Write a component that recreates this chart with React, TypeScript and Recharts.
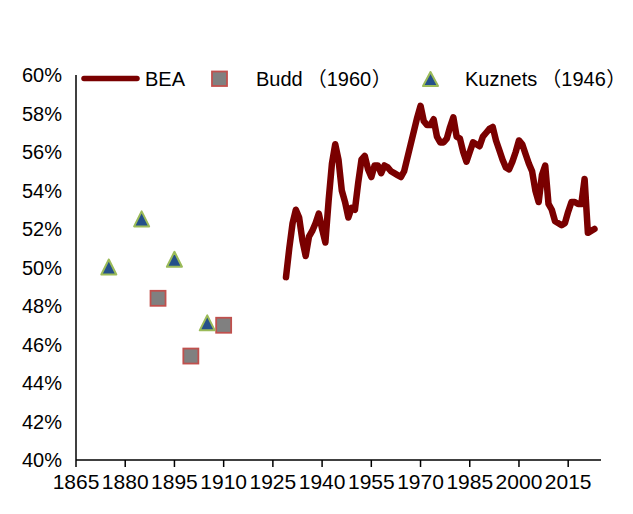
import { ComposedChart, Line, Scatter, XAxis, YAxis, Legend } from 'recharts';

// BEA labor share, annual from 1929
const beaStartYear = 1929;
const beaShare = [
  49.5, 51.0, 52.3, 53.0, 52.6, 51.4, 50.6, 51.6, 51.9, 52.3, // 1929-1938
  52.8, 52.0, 51.3, 53.5, 55.4, 56.4, 55.6, 54.0, 53.4, 52.6, // 1939-1948
  53.1, 53.0, 54.4, 55.6, 55.8, 55.1, 54.7, 55.3, 55.3, 54.9, // 1949-1958
  55.3, 55.2, 55.0, 54.9, 54.8, 54.7, 55.0, 55.7, 56.4, 57.1, // 1959-1968
  57.8, 58.4, 57.6, 57.4, 57.4, 57.7, 56.8, 56.5, 56.5, 56.7, // 1969-1978
  57.3, 57.8, 56.8, 56.7, 56.0, 55.5, 56.0, 56.5, 56.4, 56.3, // 1979-1988
  56.8, 57.0, 57.2, 57.3, 56.6, 56.1, 55.6, 55.2, 55.1, 55.5, // 1989-1998
  56.0, 56.6, 56.4, 55.9, 55.4, 55.0, 54.0, 53.4, 54.8, 55.3, // 1999-2008
  53.3, 53.0, 52.4, 52.3, 52.2, 52.3, 52.9, 53.4, 53.4, 53.3, // 2009-2018
  53.3, 54.6, 51.8, 51.9, 52.0, // 2019-2023
];

const buddYears = [1890, 1900, 1910];
const buddShare = [48.4, 45.4, 47.0];

const kuznetsYears = [1875, 1885, 1895, 1905];
const kuznetsShare = [50.0, 52.5, 50.4, 47.1];

const xTicks = [1865, 1880, 1895, 1910, 1925, 1940, 1955, 1970, 1985, 2000, 2015];
const yTicks = [40, 42, 44, 46, 48, 50, 52, 54, 56, 58, 60];

const beaData = beaShare.map((share, i) => ({ year: beaStartYear + i, share }));
const buddData = buddYears.map((year, i) => ({ year, share: buddShare[i] }));
const kuznetsData = kuznetsYears.map((year, i) => ({ year, share: kuznetsShare[i] }));

const LINE_COLOR = '#7a0000';
const SQ_FILL = '#808080';
const SQ_STROKE = '#c0504d';
const TRI_FILL = '#24508a';
const TRI_STROKE = '#9bbb59';
const FONT = '"Liberation Sans", Arial, "Noto Sans CJK SC", sans-serif';
const CJK = '"Noto Sans CJK SC", sans-serif';

const Square = (props: any) => {
  const { cx, cy } = props;
  const s = 15;
  return (
    <rect x={cx - s / 2} y={cy - s / 2} width={s} height={s} fill={SQ_FILL} stroke={SQ_STROKE} strokeWidth={1.8} />
  );
};

const Triangle = (props: any) => {
  const { cx, cy } = props;
  const w = 15;
  const h = 14;
  return (
    <polygon
      points={`${cx},${cy - h / 2 - 1} ${cx - w / 2},${cy + h / 2} ${cx + w / 2},${cy + h / 2}`}
      fill={TRI_FILL}
      stroke={TRI_STROKE}
      strokeWidth={2}
      strokeLinejoin="round"
    />
  );
};

// legend label with full-width brackets spaced like the original
const Label = ({ x, name, year }: { x: number; name: string; year: string }) => {
  const nameW = name === 'Budd' ? 46.7 : 72.3;
  return (
    <text y={26} fontSize={20} fill="#000">
      <tspan x={x}>{name}</tspan>
      <tspan x={x + nameW + 4} fontFamily={CJK}>（</tspan>
      <tspan x={x + nameW + 24}>{year}</tspan>
      <tspan x={x + nameW + 69} fontFamily={CJK}>）</tspan>
    </text>
  );
};

const LegendBox = () => (
  <svg width={633} height={32} style={{ display: 'block', fontFamily: FONT }}>
    <line x1={84} x2={137} y1={18.5} y2={18.5} stroke={LINE_COLOR} strokeWidth={5.5} strokeLinecap="round" />
    <text x={145} y={26} fontSize={20} fill="#000">BEA</text>
    <rect x={212} y={11.5} width={15} height={14.5} fill={SQ_FILL} stroke={SQ_STROKE} strokeWidth={1.8} />
    <Label x={256} name="Budd" year="1960" />
    <polygon points="430.5,12 423,26 438,26" fill={TRI_FILL} stroke={TRI_STROKE} strokeWidth={2} strokeLinejoin="round" />
    <Label x={465} name="Kuznets" year="1946" />
  </svg>
);

export default function App() {
  return (
    <div style={{ position: 'absolute', left: 0, top: 0, width: 633, height: 514, background: '#fff', fontFamily: FONT }}>
      <ComposedChart width={633} height={514} margin={{ top: 75, right: 32, bottom: 24, left: 0 }}>
        <XAxis
          dataKey="year"
          type="number"
          domain={[1865, 2025]}
          ticks={xTicks}
          interval={0}
          allowDataOverflow
          height={30}
          stroke="#000"
          strokeWidth={1.5}
          tickSize={7}
          tickMargin={7}
          tick={{ fill: '#000', fontSize: 21 }}
        />
        <YAxis
          type="number"
          domain={[40, 60]}
          ticks={yTicks}
          interval={0}
          width={76}
          stroke="#000"
          strokeWidth={1.5}
          tickLine={false}
          tickSize={0}
          tickMargin={14}
          tick={{ fill: '#000', fontSize: 20 }}
          tickFormatter={(v: number) => `${v}%`}
        />
        <Legend
          layout="horizontal"
          verticalAlign="middle"
          align="center"
          wrapperStyle={{ top: 60, left: 0, width: 633 }}
          content={() => <LegendBox />}
        />
        <Line
          data={beaData}
          dataKey="share"
          name="BEA"
          type="linear"
          stroke={LINE_COLOR}
          strokeWidth={6.5}
          strokeLinejoin="round"
          strokeLinecap="round"
          dot={false}
          activeDot={false}
          isAnimationActive={false}
        />
        <Scatter data={buddData} dataKey="share" name="Budd（1960）" shape={Square} isAnimationActive={false} />
        <Scatter data={kuznetsData} dataKey="share" name="Kuznets（1946）" shape={Triangle} isAnimationActive={false} />
      </ComposedChart>
    </div>
  );
}
